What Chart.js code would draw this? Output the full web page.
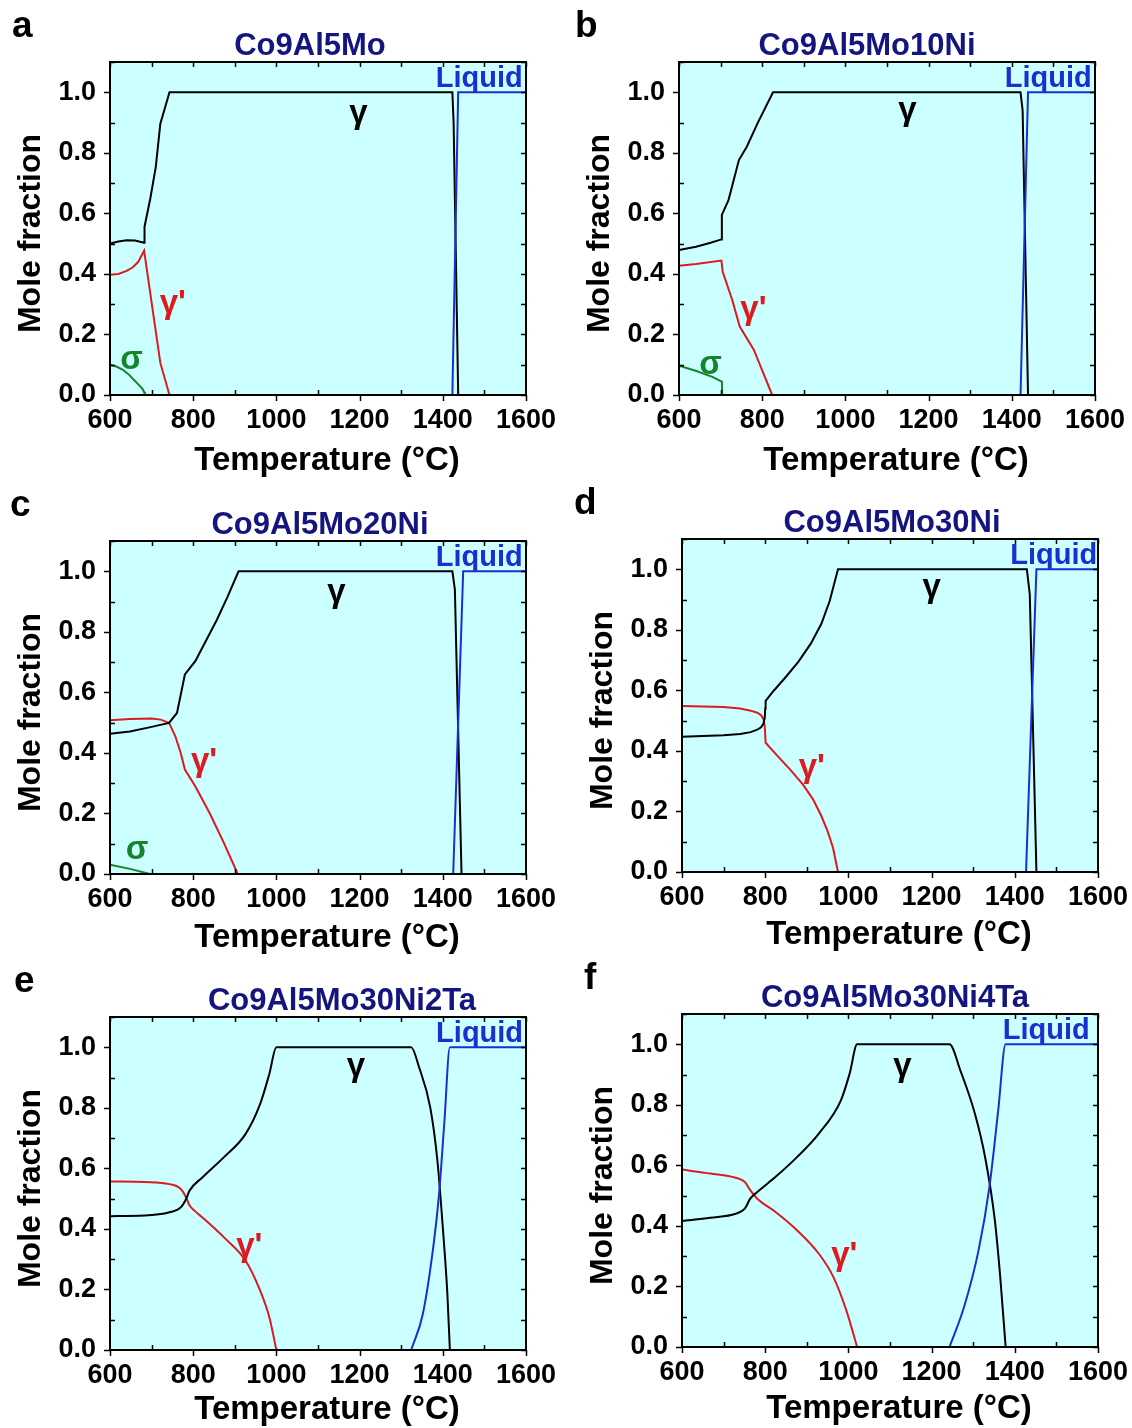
<!DOCTYPE html>
<html>
<head>
<meta charset="utf-8">
<script src="https://cdn.jsdelivr.net/npm/chart.js@4.4.0/dist/chart.umd.min.js"></script>
<style>
body{margin:0;background:#fff;width:1132px;height:1428px;position:relative;overflow:hidden}
canvas{position:absolute}
</style>
</head>
<body>
<canvas id="pa" width="566" height="480"></canvas>
<canvas id="pb" width="566" height="480"></canvas>
<canvas id="pc" width="566" height="480"></canvas>
<canvas id="pd" width="566" height="480"></canvas>
<canvas id="pe" width="566" height="480"></canvas>
<canvas id="pf" width="566" height="480"></canvas>
<script>
// [temperature (C), mole fraction]
const aGamma = [[600,0.50],[620,0.507],[640,0.511],[660,0.51],[682,0.503],[683,0.556],[697,0.65],[710,0.753],[721,0.896],[743,1.0],[1423,1.0],[1426,0.9],[1437,0]];
const aGammaP = [[600,0.397],[620,0.40],[640,0.41],[655,0.422],[668,0.44],[682,0.477],[721,0.106],[743,0]];
const aSigma = [[600,0.10],[615,0.094],[630,0.084],[645,0.068],[656,0.052],[668,0.035],[678,0.02],[682,0.01],[684,0]];
const aLiquid = [[1423,0],[1437,1.0],[1600,1.0]];

const bGamma = [[600,0.479],[641,0.49],[676,0.503],[702,0.514],[703,0.595],[719,0.644],[744,0.776],[763,0.82],[789,0.898],[826,1.0],[1421,1.0],[1426,0.94],[1439,0]];
const bGammaP = [[600,0.427],[641,0.433],[702,0.444],[705,0.407],[728,0.314],[746,0.226],[780,0.149],[824,0]];
const bSigma = [[600,0.097],[640,0.08],[680,0.06],[703,0.044],[704,0]];
const bLiquid = [[1421,0],[1439,1.0],[1600,1.0]];

const cGamma = [[600,0.463],[648,0.471],[700,0.486],[742,0.499],[761,0.532],[780,0.659],[805,0.703],[857,0.84],[883,0.917],[909,1.0],[1423,1.0],[1429,0.94],[1445,0]];
const cGammaP = [[600,0.508],[648,0.512],[700,0.514],[722,0.51],[742,0.499],[757,0.455],[770,0.40],[780,0.345],[805,0.29],[840,0.20],[874,0.102],[907,0]];
const cSigma = [[600,0.031],[648,0.017],[696,0]];
const cLiquid = [[1425,0],[1449,1.0],[1600,1.0]];

const dGamma = [[600,0.447],[650,0.449],[700,0.452],[740,0.456],[765,0.462],[781,0.47],[790,0.478],[796,0.49],[799,0.51],[800,0.54],[801,0.565],[820,0.598],[850,0.645],[880,0.695],[910,0.755],[935,0.82],[955,0.895],[975,1.0],[1429,1.0],[1436,0.917],[1452,0],[1600,0]];
const dGammaP = [[600,0.548],[650,0.547],[700,0.545],[740,0.54],[765,0.533],[781,0.526],[790,0.518],[796,0.505],[799,0.48],[801,0.427],[825,0.39],[860,0.338],[890,0.29],[915,0.24],[935,0.185],[950,0.135],[963,0.08],[975,0]];
const dLiquid = [[1427,0],[1452,1.0],[1600,1.0]];

const eGamma = [[600,0.442],[683,0.444],[743,0.455],[770,0.471],[783,0.499],[791,0.526],[822,0.57],[874,0.637],[926,0.714],[961,0.813],[983,0.912],[1000,1.0],[1324,1.0],[1343,0.934],[1370,0.80],[1387,0.626],[1400,0.405],[1411,0.185],[1417,0]];
const eGammaP = [[600,0.557],[683,0.555],[743,0.548],[770,0.532],[783,0.504],[791,0.478],[805,0.458],[822,0.438],[874,0.372],[926,0.295],[961,0.196],[983,0.108],[1000,0]];
const eLiquid = [[1324,0],[1352,0.119],[1378,0.35],[1391,0.515],[1404,0.758],[1417,1.0],[1600,1.0]];

const fGamma = [[600,0.416],[668,0.427],[729,0.44],[751,0.457],[764,0.49],[781,0.512],[825,0.562],[877,0.628],[929,0.705],[982,0.815],[1003,0.903],[1021,1.0],[1243,1.0],[1269,0.914],[1304,0.771],[1330,0.617],[1352,0.419],[1365,0.231],[1378,0]];
const fGammaP = [[600,0.586],[668,0.573],[729,0.559],[751,0.545],[764,0.518],[781,0.49],[825,0.446],[877,0.385],[929,0.308],[964,0.231],[995,0.121],[1021,0]];
const fLiquid = [[1243,0],[1278,0.132],[1313,0.32],[1339,0.529],[1360,0.78],[1378,1.0],[1600,1.0]];

const xTicks = [600, 800, 1000, 1200, 1400, 1600];
const yTicks = [0.0, 0.2, 0.4, 0.6, 0.8, 1.0];

const FONT = '"Liberation Sans", Arial, sans-serif';
const BLACK = '#000000', RED = '#dd1a1f', BLUE = '#1a2fd0', GREEN = '#16842a', NAVY = '#151580';

const panels = [
  {id:'pa', letter:'a', title:'Co9Al5Mo', left:0, top:0, titleX:310, letterX:12, xTitleDy:66,
   gamma:aGamma, gammaP:aGammaP, sigma:aSigma, liquid:aLiquid, smooth:false,
   marks:{gamma:[1197,0.93], gammaP:[751,0.30], sigma:[652,0.115], liquid:[1592,1.045]}},
  {id:'pb', letter:'b', title:'Co9Al5Mo10Ni', left:569, top:0, titleX:298, letterX:6, xTitleDy:66,
   gamma:bGamma, gammaP:bGammaP, sigma:bSigma, liquid:bLiquid, smooth:false,
   marks:{gamma:[1149,0.94], gammaP:[779,0.28], sigma:[676,0.10], liquid:[1592,1.045]}},
  {id:'pc', letter:'c', title:'Co9Al5Mo20Ni', left:0, top:479, titleX:320, letterX:10, xTitleDy:64,
   gamma:cGamma, gammaP:cGammaP, sigma:cSigma, liquid:cLiquid, smooth:false,
   marks:{gamma:[1144,0.93], gammaP:[826,0.37], sigma:[665,0.08], liquid:[1592,1.045]}},
  {id:'pd', letter:'d', title:'Co9Al5Mo30Ni', left:572, top:477, titleX:320, letterX:2, xTitleDy:63,
   gamma:dGamma, gammaP:dGammaP, sigma:null, liquid:dLiquid, smooth:false,
   marks:{gamma:[1200,0.94], gammaP:[912,0.345], liquid:[1598,1.045]}},
  {id:'pe', letter:'e', title:'Co9Al5Mo30Ni2Ta', left:0, top:955, titleX:342, letterX:14, xTitleDy:60,
   gamma:eGamma, gammaP:eGammaP, sigma:null, liquid:eLiquid, smooth:true,
   marks:{gamma:[1191,0.935], gammaP:[935,0.34], liquid:[1593,1.045]}},
  {id:'pf', letter:'f', title:'Co9Al5Mo30Ni4Ta', left:572, top:952, titleX:323, letterX:12, xTitleDy:62,
   gamma:fGamma, gammaP:fGammaP, sigma:null, liquid:fLiquid, smooth:true,
   marks:{gamma:[1130,0.925], gammaP:[990,0.30], liquid:[1580,1.045]}}
];

function pts(arr) { return arr.map(p => ({x: p[0], y: p[1]})); }

// background, frame, Origin-style ticks, axis titles, phase labels, panel title and letter
const framePlugin = {
  id: 'frame',
  beforeDatasetsDraw(chart) {
    const {ctx, chartArea: a} = chart;
    ctx.save();
    ctx.fillStyle = '#ccffff';
    ctx.fillRect(a.left, a.top, a.right - a.left, a.bottom - a.top);
    ctx.restore();
  },
  afterDatasetsDraw(chart) {
    const {ctx, chartArea: a, scales} = chart;
    const p = chart.options.plugins.frame.panel;
    ctx.save();
    ctx.strokeStyle = '#000';
    ctx.lineWidth = 2;
    ctx.strokeRect(a.left, a.top, a.right - a.left, a.bottom - a.top);
    ctx.lineWidth = 1.5;
    ctx.beginPath();
    for (let t = 600; t <= 1600; t += 100) {
      const x = Math.round(scales.x.getPixelForValue(t)) + 0.5;
      if (xTicks.includes(t)) { ctx.moveTo(x, a.bottom); ctx.lineTo(x, a.bottom + 6); }
      else { ctx.moveTo(x, a.bottom); ctx.lineTo(x, a.bottom - 5); }
      ctx.moveTo(x, a.top); ctx.lineTo(x, a.top + 5);
    }
    for (let i = 0; i <= 11; i++) {
      const y = Math.round(scales.y.getPixelForValue(i / 10)) + 0.5;
      if (i % 2 === 0 && i <= 10) { ctx.moveTo(a.left, y); ctx.lineTo(a.left - 6, y); }
      else { ctx.moveTo(a.left, y); ctx.lineTo(a.left + 5, y); }
      ctx.moveTo(a.right, y); ctx.lineTo(a.right - 5, y);
    }
    ctx.stroke();

    const m = p.marks;
    const put = (txt, pos, color, align) => {
      ctx.fillStyle = color;
      ctx.textAlign = align || 'center';
      ctx.textBaseline = 'middle';
      ctx.fillText(txt, scales.x.getPixelForValue(pos[0]), scales.y.getPixelForValue(pos[1]));
    };
    ctx.font = 'bold 33px ' + FONT;
    put('\u03b3', m.gamma, BLACK);
    put('\u03b3\'', m.gammaP, RED);
    if (m.sigma) put('\u03c3', m.sigma, GREEN);
    ctx.font = 'bold 29px ' + FONT;
    put('Liquid', m.liquid, BLUE, 'right');

    // axis titles
    ctx.fillStyle = '#000';
    ctx.font = 'bold 33px ' + FONT;
    ctx.textAlign = 'center';
    ctx.textBaseline = 'middle';
    ctx.fillText('Temperature (\u00b0C)', (a.left + a.right) / 2 + 9, a.bottom + p.xTitleDy);
    ctx.save();
    ctx.translate(31, (a.top + a.bottom) / 2 + 5);
    ctx.rotate(-Math.PI / 2);
    ctx.font = 'bold 32px ' + FONT;
    ctx.fillText('Mole fraction', 0, 0);
    ctx.restore();

    ctx.textBaseline = 'alphabetic';
    ctx.textAlign = 'center';
    ctx.fillStyle = NAVY;
    ctx.font = 'bold 31px ' + FONT;
    ctx.fillText(p.title, p.titleX, 55);
    ctx.textAlign = 'left';
    ctx.fillStyle = '#000';
    ctx.font = 'bold 37px ' + FONT;
    ctx.fillText(p.letter, p.letterX, 37);
    ctx.restore();
  }
};

panels.forEach(p => {
  const el = document.getElementById(p.id);
  el.style.left = p.left + 'px';
  el.style.top = p.top + 'px';
  const line = (data, color) => ({
    data: pts(data), borderColor: color, borderWidth: 2, pointRadius: 0,
    fill: false, tension: 0,
    cubicInterpolationMode: p.smooth ? 'monotone' : 'default'
  });
  const datasets = [line(p.liquid, BLUE), line(p.gamma, BLACK), line(p.gammaP, RED)];
  if (p.sigma) datasets.push(line(p.sigma, GREEN));

  new Chart(el, {
    type: 'line',
    data: {datasets: datasets},
    plugins: [framePlugin],
    options: {
      responsive: false,
      animation: false,
      devicePixelRatio: 1,
      layout: {padding: {top: 62, right: 40, left: 0, bottom: 0}},
      plugins: {legend: {display: false}, tooltip: {enabled: false}, frame: {panel: p}},
      scales: {
        x: {
          type: 'linear', min: 600, max: 1600,
          grid: {display: false, drawTicks: false},
          border: {display: false},
          afterFit: s => { s.height = 85; },
          ticks: {
            stepSize: 100, autoSkip: false, maxRotation: 0, padding: 9, color: '#000',
            font: {family: FONT, weight: 'bold', size: 27},
            callback: v => xTicks.includes(v) ? String(v) : ''
          }
        },
        y: {
          type: 'linear', min: 0, max: 1.1,
          grid: {display: false, drawTicks: false},
          border: {display: false},
          afterFit: s => { s.width = 110; },
          ticks: {
            stepSize: 0.1, autoSkip: false, padding: 14, color: '#000',
            font: {family: FONT, weight: 'bold', size: 27},
            callback: v => {
              const r = Math.round(v * 10);
              return (r % 2 === 0 && r <= 10) ? (r / 10).toFixed(1) : '';
            }
          }
        }
      }
    }
  });
});
</script>
</body>
</html>
